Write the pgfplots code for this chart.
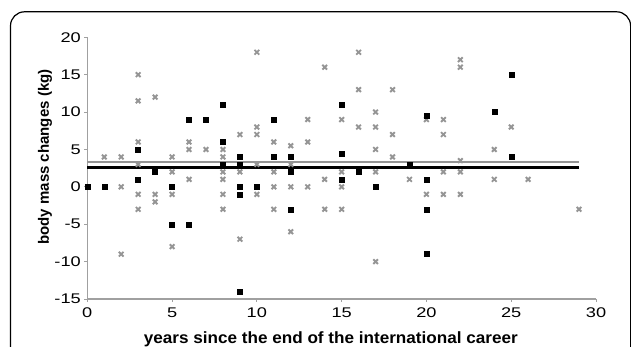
\documentclass[border=0pt]{standalone}
\usepackage{pgfplots}
\pgfplotsset{compat=1.18}
\usepackage{fontspec}
\setmainfont{Liberation Sans}
\newfontfamily\tickfont[FakeStretch=1.3]{Liberation Sans}
\newfontfamily\labfont[FakeStretch=1.05]{Liberation Sans}
\definecolor{mk}{HTML}{959595}
\definecolor{ax}{HTML}{A0A0A0}

\pgfplotstableread{
x y
1 4
2 4
2 0
2 -9
3 15
3 11.5
3 6
3 3
3 -1
3 -3
4 12
4 -1
4 -2
5 4
5 2
5 -1
5 -8
6 6
6 5
6 1
7 5
8 5
8 4
8 2
8 1
8 -1
8 -3
9 7
9 2
9 -7
10 18
10 8
10 7
10 3
10 -1
11 6
11 2
11 0
11 -3
12 5.5
12 3
12 0
12 -6
13 9
13 6
13 0
14 16
14 1
14 -3
15 9
15 2
15 0
15 -3
16 18
16 13
16 8
17 10
17 8
17 5
17 2
17 -10
18 13
18 7
18 4
19 1
20 9
20 -1
21 9
21 7
21 2
21 -1
22 17
22 16
22 3.5
22 2
22 -1
24 5
24 1
25 8
26 1
29 -3
}\graydata

\pgfplotstableread{
x y
0 0
1 0
3 5
3 1
4 2
5 0
5 -5
6 9
6 -5
7 9
8 11
8 6
8 3
9 4
9 3
9 0
9 -1
9 -14
10 0
11 9
11 4
12 4
12 2
12 -3
15 11
15 4.5
15 1
16 2
17 0
19 3
20 9.5
20 1
20 -3
20 -9
24 10
25 15
25 4
}\blackdata

\begin{document}
\begin{tikzpicture}[x=1bp,y=1bp]
\path[use as bounding box] (-87.3,-47) rectangle (543.7,299);
\draw[line width=1.2bp, rounded corners=14bp] (-76.8,-90) -- (-76.8,287.2) -- (543.3,287.2) -- (543.3,-90);
\begin{axis}[
  at={(0,0)}, anchor=south west,
  scale only axis, width=508.7bp, height=261.7bp,
  xmin=0, xmax=30, ymin=-15, ymax=20,
  clip=false,
  axis x line*=bottom, axis y line*=left,
  axis line style={ax, line width=1.3bp},
  tick align=outside, major tick length=3bp,
  tick style={ax, line width=1bp},
  xtick={0,5,...,30}, xticklabels={0,5,10,15,20,25,30},
  ytick={-15,-10,...,20}, yticklabels={-15,-10,-5,0,5,10,15,20},
  ticklabel style={font=\tickfont\fontsize{14bp}{14bp}\selectfont, inner sep=0pt, text=black},
  yticklabel style={xshift=-3.3bp},
  xticklabel style={yshift=-6bp},
  xlabel={years since the end of the international career},
  ylabel={body mass changes (kg)},
  x label style={font=\labfont\bfseries\fontsize{16.3bp}{16.3bp}\selectfont, at={(axis description cs:0.4787,0)}, anchor=base, yshift=-44bp, inner sep=0pt},
  y label style={font=\bfseries\fontsize{15bp}{15bp}\selectfont, at={(axis description cs:-0.0832,0.5426)}, anchor=center, inner sep=0pt},
]
\addplot[only marks, mark=x, mark size=3.3bp, mark options={mk, line width=1.9bp}] table[x=x,y=y] {\graydata};
\addplot[mk, line width=2bp] coordinates {(0,3.33) (29,3.33)};
\addplot[black, line width=2.5bp] coordinates {(0,2.6) (29,2.6)};
\addplot[only marks, mark=square*, mark size=2.5bp, mark options={black, fill=black, line width=0.4bp}] table[x=x,y=y] {\blackdata};
\end{axis}
\end{tikzpicture}
\end{document}
